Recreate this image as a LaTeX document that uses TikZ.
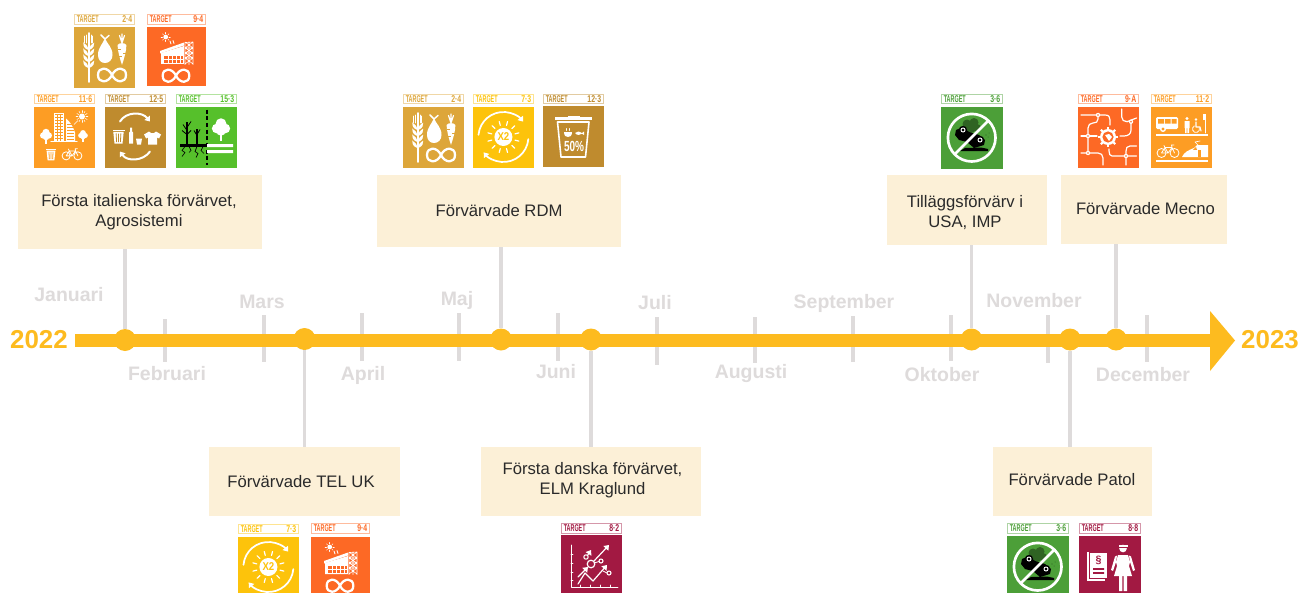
\documentclass[tikz,border=0pt]{standalone}
\usepackage{fontspec}
\usepackage{graphicx}
\setmainfont{Liberation Sans}
\usetikzlibrary{arrows.meta}
\definecolor{axisc}{HTML}{FDBB1F}
\definecolor{greyc}{HTML}{DEDBDB}
\definecolor{boxc}{HTML}{FCF0D7}
\definecolor{txtc}{HTML}{2A2A2A}
\definecolor{sdgii}{HTML}{DDA63A}
\definecolor{sdgiii}{HTML}{4C9F38}
\definecolor{sdgvii}{HTML}{FDC30B}
\definecolor{sdgviii}{HTML}{A21942}
\definecolor{sdgix}{HTML}{FD6925}
\definecolor{sdgxi}{HTML}{FD9D24}
\definecolor{sdgxii}{HTML}{BF8B2E}
\definecolor{sdgxv}{HTML}{56C02B}
\newcounter{bd}
\tikzset{
  x=0.75pt,y=-0.75pt,
  ev/.style={rectangle,fill=boxc,draw=none,inner sep=0pt},
  evtext/.style={align=center,text=txtc,inner sep=0pt,font=\fontsize{12.5}{15}\selectfont},
  month/.style={text=greyc,inner sep=0pt,font=\fontsize{14.6}{16}\selectfont\bfseries},
  year/.style={text=axisc,inner sep=0pt,font=\fontsize{19.4}{20}\selectfont\bfseries},
  hdr/.style={inner sep=0pt,font=\fontsize{7.4}{8}\selectfont\bfseries},
  dot/.style={circle,fill=axisc,draw=none,minimum size=16.5pt,inner sep=0pt},
  conn/.style={draw=greyc,line width=2.5pt},
  wl/.style={draw=white,line width=#1,line cap=round,line join=round},
  wl/.default=1pt,
  tip/.style={-{Triangle[length=3.5pt,width=5pt]}},
}
% ---------- helpers
\newcommand\icInf[3]{\begin{scope}[shift={(#1,#2)},scale=#3]
 \draw[wl=1.7pt] (0,0) .. controls (4,-8.5) and (14,-8.5) .. (14,0) .. controls (14,8.5) and (4,8.5) .. (0,0) .. controls (-4,-8.5) and (-14,-8.5) .. (-14,0) .. controls (-14,8.5) and (-4,8.5) .. (0,0);
\end{scope}}
\newcommand\icBike[3]{\begin{scope}[shift={(#1,#2)},scale=#3]
 \draw[wl=.6pt] (-6.5,1.5) circle [radius=4.5] (6.5,1.5) circle [radius=4.5];
 \draw[wl=.6pt] (-6.5,1.5) -- (-3,-4) -- (4,-4) -- (6.5,1.5) (-3,-4) -- (0,1.5) -- (4,-4) (0,1.5) -- (-6.5,1.5) (-3,-4) -- (-4,-6) (4,-4) -- (3.5,-6.5) -- (6,-6.5);
\end{scope}}
\newcommand\icBin[3]{\begin{scope}[shift={(#1,#2)},scale=#3]
 \fill[white] (-6,-7) rectangle (6,-5.4);
 \fill[white] (-5.2,-4.6) -- (5.2,-4.6) -- (4,7) -- (-4,7) -- cycle;
 \draw[icbg,line width=.6pt] (-2.4,-3) -- (-1.9,5.5) (0,-3) -- (0,5.5) (2.4,-3) -- (1.9,5.5);
\end{scope}}
\newcommand\icTree[3]{\begin{scope}[shift={(#1,#2)},scale=#3]
 \fill[white] (-.8,2) rectangle (.8,8);
 \fill[white] (0,-3) circle [radius=3.4] (-2.7,0) circle [radius=3] (2.7,0) circle [radius=3] (0,1.5) circle [radius=3];
\end{scope}}
\newcommand\icNode[2]{\fill[white] (#1,#2) circle [radius=2.2]; \fill[icbg] (#1,#2) circle [radius=.9];}
% ---------- icons (local 0..61, y down)
\newcommand\icZeroTwoFour{%
 \draw[wl=1.3pt] (14.7,6) -- (14.7,55);
 \draw[wl=.5pt] (12.5,8) -- (12.5,16) (16.9,8) -- (16.9,16) (10.8,9) -- (10.8,16) (18.6,9) -- (18.6,16);
 \foreach \yy in {17,23,29,35}{
  \fill[white] (14.2,\yy+6) .. controls (9.2,\yy+4) and (9.2,\yy+1) .. (9.2,\yy-1.5) .. controls (11.6,\yy) and (14.2,\yy+2) .. cycle;
  \fill[white] (15.2,\yy+6) .. controls (20.2,\yy+4) and (20.2,\yy+1) .. (20.2,\yy-1.5) .. controls (17.8,\yy) and (15.2,\yy+2) .. cycle;}
 \fill[white] (31,11) .. controls (33,17) and (38.5,20) .. (38.5,28) .. controls (38.5,33) and (35,36) .. (31,36) .. controls (27,36) and (24,33) .. (24,28) .. controls (24,20) and (29,17) .. (31,11);
 \draw[wl=1.1pt] (31,12) -- (27,8) (31,12) -- (35,8.5);
 \fill[white] (43.6,18) .. controls (45,15.5) and (51,15.5) .. (52.4,18) .. controls (52.4,24) and (50,32) .. (48,38) .. controls (46,32) and (43.6,24) .. (43.6,18);
 \draw[wl=.9pt] (48,16) -- (45.5,8.5) (48,16) -- (48,7) (48,16) -- (50.5,8.5);
 \draw[icbg,line width=.5pt] (44,22) -- (47,22) (52,26) -- (49,26) (45,29) -- (47.5,29);
 \icInf{38}{48}{1}}
\newcommand\icFactory{%
 \fill[white] (18.7,10) circle [radius=2.4];
 \foreach \a in {0,45,...,315}{\draw[wl=.4pt] (18.7,10) ++(\a:3.2) -- ++(\a:1.4);}
 \draw[wl=.6pt] (23,14) -- (24,17) (26,13.5) -- (27,16.5);
 \fill[white] (13,24) -- (37,15.5) -- (37,18.5) -- (13,26.5) -- cycle;
 \fill[white] (14,26) -- (37,19) -- (37,37) -- (14,37) -- cycle;
 \fill[icbg] (17,29) rectangle (36,36);
 \draw[wl=.55pt] (17,32.5) -- (36,32.5) (21,29) -- (21,36) (25,29) -- (25,36) (29,29) -- (29,36) (33,29) -- (33,36);
 \draw[wl=.45pt] (38,15.5) -- (38,37.5) (42,15) -- (42,37.5) (46,15) -- (46,37.5) (38,15.5) -- (46,15) (38,21) -- (46,21) (38,26) -- (46,26) (38,31) -- (46,31) (38,21) -- (46,15) (38,15) -- (46,21) (38,26) -- (46,21) (38,21) -- (46,26) (38,31) -- (46,26) (38,26) -- (46,31) (38,37) -- (46,31) (38,31) -- (46,37);
 \icInf{29}{48.7}{.95}}
\newcommand\icElevenSix{%
 \fill[white] (20,6) rectangle (30,35);
 \foreach \yy in {8,11,...,32}{\draw[icbg,line width=.5pt] (21,\yy) -- (29,\yy);}
 \draw[icbg,line width=.4pt] (23.3,7) -- (23.3,34) (26.6,7) -- (26.6,34);
 \fill[white] (32,12) .. controls (36,15) and (39,20) .. (41,26) -- (41,35) -- (32,35) -- cycle;
 \foreach \yy in {18,21,...,33}{\draw[icbg,line width=.45pt] (33,\yy) -- (40,\yy);}
 \draw[wl=.8pt] (17,35.2) -- (43,35.2);
 \fill[white] (48,10) circle [radius=3];
 \foreach \a in {0,30,...,330}{\draw[wl=.4pt] (48,10) ++(\a:3.9) -- ++(\a:2);}
 \draw[wl=.4pt] (44,14) -- (40,18);
 \icTree{12}{29}{1.05} \icTree{49}{29}{.85}
 \icBin{17}{48}{.85} \icBike{38}{48}{.9}}
\newcommand\icTwelveFive{%
 \draw[wl=1.5pt,tip] (15,15) .. controls (21,5) and (37,5) .. (45,15);
 \draw[wl=1.5pt,tip] (45,45) .. controls (38,55) and (22,55) .. (15,45);
 \icBin{13.5}{30}{1}
 \fill[white] (24,26) -- (25,25) -- (25,21) -- (27,21) -- (27,25) -- (28,26) -- (28,37) -- (24,37) -- cycle;
 \fill[white] (31,32) -- (37,32) -- (36,38) -- (32,38) -- cycle;
 \fill[white] (44,25) -- (39,28) -- (41,32) -- (43,31) -- (43,38) -- (52,38) -- (52,31) -- (54,32) -- (56,28) -- (51,25) -- (49,26.5) -- (46,26.5) -- cycle;}
\newcommand\icFifteen{%
 \draw[black,line width=1.3pt,dash pattern=on 3.2pt off 1.8pt] (31,3) -- (31,58);
 \fill[black] (4,37) rectangle (31,40);
 \draw[black,line width=.9pt] (11,37) -- (11,15) (21,37) -- (21,22);
 \draw[black,line width=.6pt] (11,24) -- (7,18) (11,21) -- (15,15) (11,28) -- (15,24) (11,28) -- (6,24) (21,29) -- (18,24) (21,28) -- (24,23);
 \draw[black,line width=.5pt] (9,40) -- (6,44) -- (9,46) -- (6,50) (13,40) -- (15,44) -- (13,46) (21,40) -- (19,45) -- (22,47) -- (20,51) (27,40) -- (25,44) -- (28,47);
 \icTree{45}{22}{1.6}
 \fill[white] (31,37.5) rectangle (57,40.7) (31,43.5) rectangle (57,46.7);}
\newcommand\icSevenThree{%
 \fill[white] (30.4,30) circle [radius=9];
 \node[inner sep=0pt,text=icbg,font=\fontsize{8.5}{8.5}\selectfont\bfseries] (x\arabic{bd}) at (30.4,30) {\scalebox{.85}[1]{X2}};
 \foreach \a in {15,45,...,345}{\draw[wl=.9pt] (30.4,30) ++(\a:12) -- ++(\a:4);}
 \draw[wl=1.3pt,tip] (30.4,30) ++(185:25) arc [start angle=185,end angle=322,radius=25];
 \draw[wl=1.3pt,tip] (30.4,30) ++(5:25) arc [start angle=5,end angle=142,radius=25];}
\newcommand\icTwelveThree{%
 \fill[white] (12,11) rectangle (49,13.5);
 \fill[white] (25,10) rectangle (37,12);
 \draw[wl=1.2pt] (14.5,16) -- (46,16) -- (42.5,51) -- (18,51) -- cycle;
 \fill[white] (21,26) -- (29,26) .. controls (29,30) and (27,31) .. (25,31) .. controls (23,31) and (21,30) .. (21,26) -- cycle;
 \draw[wl=.4pt] (23.5,24.5) -- (23.5,22.5) (26,24.5) -- (26,22.5);
 \fill[white] (32,27) .. controls (34,25) and (37,25) .. (39,27) -- (41,25.5) -- (41,29) -- (39,27.8) .. controls (37,29.5) and (34,29.5) .. (32,27) -- cycle;
 \node[inner sep=0pt,text=white,font=\fontsize{11}{11}\selectfont\bfseries] (x\arabic{bd}) at (31,40) {\scalebox{.68}[1]{50\%}};}
\newcommand\icThreeSix{%
 \fill[icbg!62!black] (26,17) circle [radius=4.5] (33,15.5) circle [radius=4.5] (36,21) circle [radius=4] (30,22) circle [radius=4];
 \fill[black] (14,28) -- (15,23) -- (22,20) -- (28,25) -- (38,28) -- (44,33) -- (43,38) -- (33,41) -- (26,35) -- (18,33) -- cycle;
 \fill[black] (19,44) -- (47,44) -- (47,42) -- (40,40.5) -- (24,41) -- cycle;
 \fill[black] (22,23) circle [radius=4.2] (39,33) circle [radius=4.2];
 \draw[white,line width=.7pt] (22,23) circle [radius=2] (39,33) circle [radius=2];
 \fill[icbg!62!black] (45,28) circle [radius=.6] (48,26) circle [radius=.5] (47,30) circle [radius=.5];
 \draw[wl=2pt] (30.7,30.7) circle [radius=23.8];
 \draw[white,line width=2pt] (13.5,47.5) -- (47.5,13.5);}
\newcommand\icNineA{%
 \begin{scope}[wl=.9pt]
 \draw (3,8) -- (27,8) .. controls (31,8) and (32,10) .. (32,13) -- (32,18);
 \draw (20,8) -- (20,12) .. controls (20,15) and (18,16) .. (15,16) .. controls (12,16) and (10,18) .. (10,21) -- (10,42) .. controls (10,44) and (10,45) .. (10,46);
 \draw (3,29) -- (19,29);
 \draw (3,46) -- (20,46) .. controls (23,46) and (25,48) .. (25,51) -- (25,58);
 \draw (43.7,2) -- (43.7,10) .. controls (43.7,13) and (46,14.7) .. (49,14.7) -- (58.5,11);
 \draw (53,14.7) -- (53,23) .. controls (53,27) and (50,29) .. (46,29) -- (42,29);
 \draw (58.5,39) -- (52,39) .. controls (49,39) and (48,41) .. (48,44) -- (48,58);
 \draw (58.5,49) -- (34,49) .. controls (32,49) and (31,47) .. (31,44) -- (31,42);
 \end{scope}
 \icNode{20}{8} \icNode{10}{29} \icNode{10}{46} \icNode{53}{14.7} \icNode{48}{49}
 \foreach \a in {0,45,...,315}{\draw[white,line width=1.6pt] (30,30) ++(\a:7) -- ++(\a:3.2);}
 \fill[white] (30,30) circle [radius=8];
 \fill[icbg] (30,30) circle [radius=5.6];
 \fill[white] (27,28) -- (31,27) -- (34,30) -- (31,34) -- (29,31) -- cycle;}
\newcommand\icElevenTwo{%
 \fill[white,rounded corners=1pt] (5,10) rectangle (27,22);
 \fill[icbg] (7,12) rectangle (13,16.5) (14,12) rectangle (19.5,16.5) (20.5,12) rectangle (25.5,16.5);
 \fill[white] (12,22) circle [radius=3]; \fill[icbg] (12,22) circle [radius=1.6];
 \fill[white] (36,11.5) circle [radius=1.6];
 \fill[white] (33.5,14) rectangle (38.5,21) (34,21) rectangle (35.7,26) (36.3,21) rectangle (38,26);
 \fill[white] (45,12.5) circle [radius=1.4];
 \draw[wl=.8pt] (45,15) -- (45,20) -- (49,20) -- (50,24);
 \draw[wl=.6pt] (45,22) ++(-20:3.5) arc [start angle=-20,end angle=240,radius=3.5];
 \fill[white] (51.5,7) rectangle (55,13);
 \draw[wl=.7pt] (54,13) -- (54,26);
 \fill[white] (5,26.5) rectangle (57,29.3);
 \icBike{17}{44.5}{1}
 \fill[white] (31,50) .. controls (33,45) and (38,43) .. (43,41) -- (46,38) -- (57,38) -- (57,50) -- cycle;
 \fill[icbg] (47,43) rectangle (50,50);
 \fill[icbg] (42,42.8) -- (45,40) -- (46,42.8) -- cycle;
 \draw[wl=.5pt] (47,38) -- (44,35) -- (49,34);
 \fill[white] (5,52.5) rectangle (57,55.3);}
\newcommand\icEightTwo{%
 \draw[wl=.7pt] (10,10) -- (10,52) -- (57,52);
 \foreach \yy in {19,28,37,45}{\draw[wl=.6pt] (10,\yy) -- (12,\yy);}
 \foreach \xx in {19,29,39,49}{\draw[wl=.6pt] (\xx,52) -- (\xx,50);}
 \draw[wl=.9pt,tip] (17,42) -- (27,32);
 \draw[wl=.9pt,tip] (33,26) -- (48,10);
 \draw[wl=.9pt,tip] (17,49) -- (24,38) -- (32,46) -- (46,30);
 \draw[wl=.9pt] (30,29) circle [radius=3.8];
 \draw[wl=.8pt] (25,22) circle [radius=2.2];
 \draw[wl=.8pt,tip] (26.5,20.5) -- (30,15);
 \draw[wl=.8pt] (40,26) circle [radius=2] (48,38) circle [radius=2];
 \draw[wl=.6pt] (33,28) -- (38,26.5) (46,38) -- (42,36);}
\newcommand\icEightEight{%
 \fill[white] (8,16) rectangle (26,45);
 \fill[icbg] (10,15) rectangle (29,43);
 \fill[white] (11,17) rectangle (28,41.5);
 \node[inner sep=0pt,text=icbg,font=\fontsize{8}{8}\selectfont\bfseries] (x\arabic{bd}) at (19.5,24) {\S};
 \fill[icbg] (14,32) rectangle (25,33.8) (14,36) rectangle (25,37.8);
 \fill[white] (44,12.5) circle [radius=3.8];
 \fill[white] (39.5,10.5) rectangle (48.5,8.5);
 \fill[icbg] (39,11) rectangle (49,11.6);
 \fill[white] (39,19) -- (49,19) -- (51,26) -- (50,30) -- (53,40) -- (35,40) -- (38,30) -- (37,26) -- cycle;
 \fill[white] (36,20.5) -- (38,19.5) -- (37,26) -- (34,35) -- (32,34) -- cycle;
 \fill[white] (52,20.5) -- (50,19.5) -- (51,26) -- (54,35) -- (56,34) -- cycle;
 \fill[white] (40,40) rectangle (43.3,55) (44.7,40) rectangle (48,55);}
% ---------- badge: x, hdr top, hdr bottom, icon top, w, colour, number, icon
\newcommand\badge[8]{\stepcounter{bd}\begin{scope}[shift={(#1,0)}]
 \colorlet{icbg}{#6}
 \draw[draw=#6!45!white,line width=.8pt] (.6,#2+.6) rectangle (#5-.6,#3-.6);
 \node[hdr,anchor=west,text=#6] (tl\arabic{bd}) at ({2.5},{(#2+#3)/2}) {\scalebox{.55}[1]{TARGET}};
 \node[hdr,anchor=east,text=#6] (tn\arabic{bd}) at ({#5-2.5},{(#2+#3)/2}) {\scalebox{.7}[1]{#7}};
 \fill[#6] (0,#4) rectangle (#5,#4+#5);
 \begin{scope}[shift={(0,#4)}]#8\end{scope}
\end{scope}}
\begin{document}
\begin{tikzpicture}
\useasboundingbox (0,0) rectangle (1301,592);
\clip (0,0) rectangle (1301,592);
\fill[white] (0,0) rectangle (1301,592);
% boxes
\node[ev,minimum width=183pt,minimum height=55.5pt] (b1) at (140,212) {};
\node[ev,minimum width=183pt,minimum height=54pt] (b2) at (499,211) {};
\node[ev,minimum width=120pt,minimum height=52.5pt] (b3) at (967,210) {};
\node[ev,minimum width=124.5pt,minimum height=51.75pt] (b4) at (1144,209.5) {};
\node[ev,minimum width=143.25pt,minimum height=51.75pt] (b5) at (304.5,481.5) {};
\node[ev,minimum width=165pt,minimum height=51.75pt] (b6) at (591,481.5) {};
\node[ev,minimum width=119.25pt,minimum height=51.75pt] (b7) at (1072.5,481.5) {};
\node[evtext] (e1) at (139,212) {Första italienska förvärvet,\\Agrosistemi};
\node[evtext] (e2) at (499,210.5) {Förvärvade RDM};
\node[evtext] (e3) at (965,213) {Tilläggsförvärv i\\USA, IMP};
\node[evtext] (e4) at (1145.5,208.5) {Förvärvade Mecno};
\node[evtext] (e5) at (301,482) {Förvärvade TEL UK};
\node[evtext] (e6) at (592.5,480) {Första danska förvärvet,\\ELM Kraglund};
\node[evtext] (e7) at (1072,480) {Förvärvade Patol};
% ticks
\foreach \i/\tx/\ta/\tb in {1/165/319/362,2/264/315/362,3/362/313/361,4/459/313/361,5/558/313/361,6/657/317/365,7/755/317/363,8/853/316/362,9/951/315/361,10/1048/315/363,11/1147/315/362}{
 \coordinate (ta\i) at (\tx,\ta); \coordinate (tb\i) at (\tx,\tb);
 \draw[conn] (ta\i) -- (tb\i);}
% axis
\coordinate (axs) at (75,340);
\fill[axisc] (axs) ++(0,-6.5) rectangle (1211,346.5);
\fill[axisc] (1210,311) -- (1235,340.5) -- (1210,371) -- cycle;
% dots
\node[dot] (d1) at (125,340) {};
\node[dot] (d2) at (304.5,339) {};
\node[dot] (d3) at (501,339.5) {};
\node[dot] (d4) at (591,339.5) {};
\node[dot] (d5) at (971.5,339.5) {};
\node[dot] (d6) at (1070,339.5) {};
\node[dot] (d7) at (1116,339.5) {};
% connectors
\draw[conn] (b1.south -| d1) -- (d1.north);
\draw[conn] (b2.south -| d3) -- (d3.north);
\draw[conn] (b3.south -| d5) -- (d5.north);
\draw[conn] (b4.south -| d7) -- (d7.north);
\draw[conn] (d2.south) -- (b5.north -| d2);
\draw[conn] (d4.south) -- (b6.north -| d4);
\draw[conn] (d6.south) -- (b7.north -| d6);
% labels
\node[year] (y1) at (39,340) {2022};
\node[year] (y2) at (1270,340) {2023};
\node[month] (m1) at (69,295) {Januari};
\node[month] (m2) at (167,374) {Februari};
\node[month] (m3) at (262,301.5) {Mars};
\node[month] (m4) at (363,375.5) {April};
\node[month] (m5) at (457,300.5) {Maj};
\node[month] (m6) at (556,372) {Juni};
\node[month] (m7) at (655,303) {Juli};
\node[month] (m8) at (751,374) {Augusti};
\node[month] (m9) at (844,303) {September};
\node[month] (m10) at (942,375) {Oktober};
\node[month] (m11) at (1034,300.5) {November};
\node[month] (m12) at (1143,375) {December};
% badges
\badge{74}{14}{25}{27}{61}{sdgii}{2·4}{\icZeroTwoFour}
\badge{147}{14}{25}{27}{59}{sdgix}{9·4}{\icFactory}
\badge{34}{94}{104.5}{106.5}{61}{sdgxi}{11·6}{\icElevenSix}
\badge{105}{94}{104.5}{106.5}{61}{sdgxii}{12·5}{\icTwelveFive}
\badge{176}{94}{104.5}{106.5}{61}{sdgxv}{15·3}{\icFifteen}
\badge{403}{93.5}{104.5}{107}{61}{sdgii}{2·4}{\icZeroTwoFour}
\badge{473}{93.5}{104.5}{107}{61}{sdgvii}{7·3}{\icSevenThree}
\badge{543}{93.5}{104.5}{106}{61}{sdgxii}{12·3}{\icTwelveThree}
\badge{941}{93.5}{104.5}{107}{62}{sdgiii}{3·6}{\icThreeSix}
\badge{1078}{93.5}{104.5}{107}{61}{sdgix}{9·A}{\icNineA}
\badge{1151}{93.5}{104.5}{107}{61}{sdgxi}{11·2}{\icElevenTwo}
\badge{238}{524}{534.5}{537}{61}{sdgvii}{7·3}{\icSevenThree}
\badge{311}{523}{534}{537}{59}{sdgix}{9·4}{\icFactory}
\badge{561}{522.5}{534}{535}{61}{sdgviii}{8·2}{\icEightTwo}
\badge{1007}{523}{534}{536}{62}{sdgiii}{3·6}{\icThreeSix}
\badge{1079}{523}{534}{536}{62}{sdgviii}{8·8}{\icEightEight}
\end{tikzpicture}
\end{document}
